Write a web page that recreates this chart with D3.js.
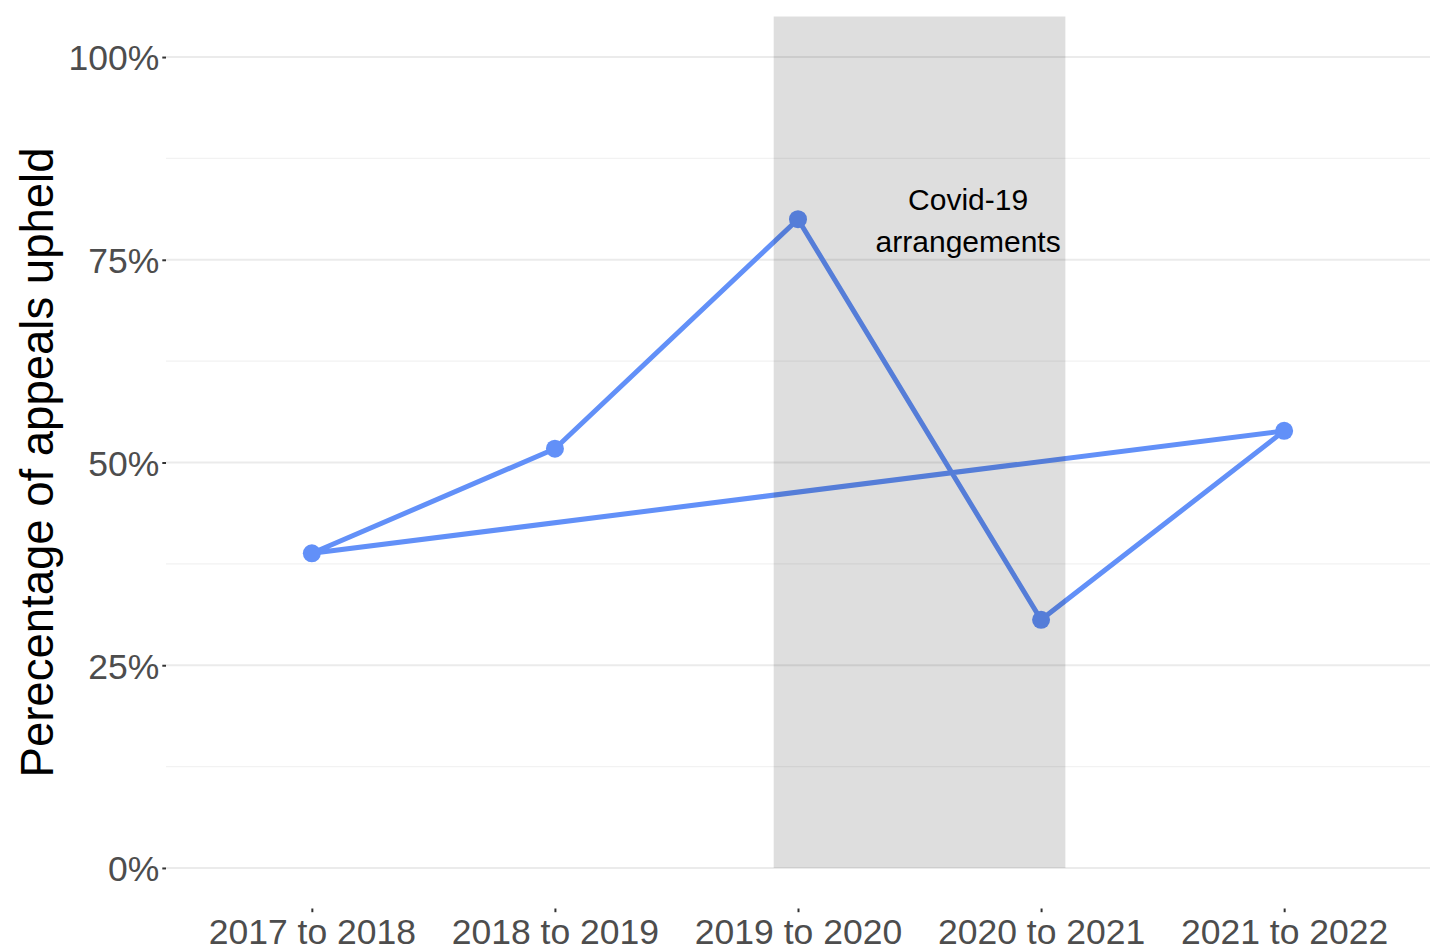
<!DOCTYPE html>
<html>
<head>
<meta charset="utf-8">
<script src="https://cdn.jsdelivr.net/npm/d3@7"></script>
<style>
  html, body { margin:0; padding:0; background:#fff; }
  svg text { font-family: "Liberation Sans", Arial, sans-serif; }
</style>
</head>
<body>
<div id="chart"></div>
<script>
// data, in the order the path was drawn (it closes back on the first year)
var years = ["2017 to 2018", "2018 to 2019", "2019 to 2020", "2020 to 2021", "2021 to 2022"]
var upheld = [0.388, 0.517, 0.800, 0.306, 0.539]
var pathOrder = [0, 1, 2, 3, 4, 0]
var yTicks = [0, 0.25, 0.5, 0.75, 1]
var yMinor = [0.125, 0.375, 0.625, 0.875]
var covidSpan = [2.9, 4.1]   // in category units, 1-based
var covidLabel = ["Covid-19", "arrangements"]
var covidLabelAt = { x: 3.7, y: 0.8 }

var W = 1438, H = 949
var margin = { top: 16.5, right: 8, bottom: 40.5, left: 166 }
var width = W - margin.left - margin.right
var height = H - margin.top - margin.bottom

var svg = d3.select("#chart").append("svg")
    .attr("width", W).attr("height", H)
  .append("g")
    .attr("transform", "translate(" + margin.left + "," + margin.top + ")")

// discrete x like ggplot: 0.6 expansion each side
var x = d3.scaleLinear().domain([0.4, years.length + 0.6]).range([0, width])
var y = d3.scaleLinear().domain([-0.05, 1.05]).range([height, 0])

// grid
svg.append("g").selectAll("line").data(yMinor).enter().append("line")
    .attr("x1", 0).attr("x2", width)
    .attr("y1", d => y(d)).attr("y2", d => y(d))
    .attr("stroke", "#f2f2f2").attr("stroke-width", 1.1)
svg.append("g").selectAll("line").data(yTicks).enter().append("line")
    .attr("x1", 0).attr("x2", width)
    .attr("y1", d => y(d)).attr("y2", d => y(d))
    .attr("stroke", "#ebebeb").attr("stroke-width", 2.1)

// line + points
var line = d3.line()
    .x(i => x(i + 1))
    .y(i => y(upheld[i]))
svg.append("path").datum(pathOrder)
    .attr("fill", "none")
    .attr("stroke", "#6290f8")
    .attr("stroke-width", 5)
    .attr("stroke-linejoin", "round")
    .attr("d", line)
svg.append("g").selectAll("circle").data(upheld).enter().append("circle")
    .attr("cx", (d, i) => x(i + 1))
    .attr("cy", d => y(d))
    .attr("r", 9)
    .attr("fill", "#6290f8")

// covid shading drawn on top, semi transparent
svg.append("rect")
    .attr("x", x(covidSpan[0]))
    .attr("width", x(covidSpan[1]) - x(covidSpan[0]))
    .attr("y", 0)
    .attr("height", y(0))
    .attr("fill", "#000").attr("fill-opacity", 0.13)

svg.append("text")
    .attr("x", x(covidLabelAt.x))
    .attr("y", y(covidLabelAt.y))
    .attr("text-anchor", "middle")
    .attr("font-size", 30).attr("fill", "#000")
    .selectAll("tspan").data(covidLabel).enter().append("tspan")
    .attr("x", x(covidLabelAt.x))
    .attr("dy", (d, i) => i === 0 ? "-0.3em" : "1.38em")
    .text(d => d)

// axes
var yAxis = svg.append("g")
    .call(d3.axisLeft(y).tickValues(yTicks).tickSize(3.7).tickPadding(3)
      .tickFormat(d3.format(".0%")))
yAxis.select(".domain").remove()
yAxis.selectAll(".tick line").attr("stroke", "#333").attr("stroke-width", 2)
yAxis.selectAll(".tick text").attr("font-size", 35.5).attr("fill", "#4d4d4d")
  .attr("font-family", "Liberation Sans, Arial, sans-serif").attr("dy", "0.36em")

var xAxis = svg.append("g")
    .attr("transform", "translate(0," + height + ")")
    .call(d3.axisBottom(x).tickValues(d3.range(1, years.length + 1)).tickSize(3.7).tickPadding(3)
      .tickFormat(d => years[d - 1]))
xAxis.select(".domain").remove()
xAxis.selectAll(".tick line").attr("stroke", "#333").attr("stroke-width", 2)
xAxis.selectAll(".tick text").attr("font-size", 35.5).attr("fill", "#4d4d4d")
  .attr("font-family", "Liberation Sans, Arial, sans-serif").attr("dy", "0.8em")

// y title
svg.append("text")
    .attr("transform", "translate(" + (53 - margin.left) + "," + (height / 2) + ") rotate(-90)")
    .attr("text-anchor", "middle")
    .attr("font-size", 45.5).attr("fill", "#000")
    .text("Perecentage of appeals upheld")
</script>
</body>
</html>
